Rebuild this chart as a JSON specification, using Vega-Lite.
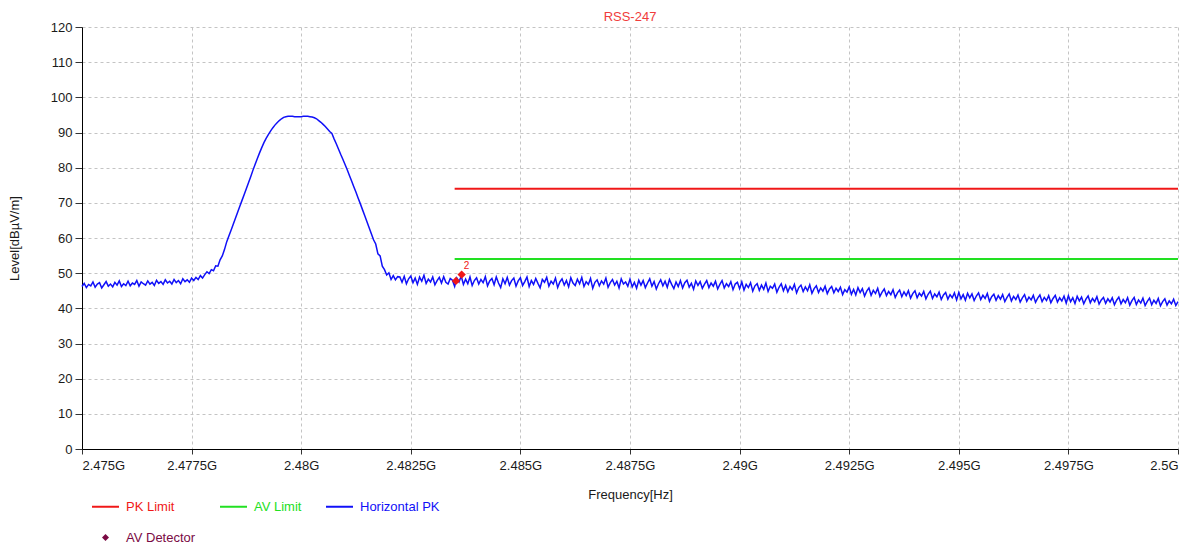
{
"$schema": "https://vega.github.io/schema/vega-lite/v6.json",
"width": 1096,
"height": 422,
"autosize": {"type": "none"},
"padding": {"left": 82, "top": 27, "right": 15, "bottom": 96},
"background": "#ffffff",
"view": {"stroke": null},
"title": {"text": "RSS-247", "color": "#f03c3c", "font": "Liberation Sans", "fontSize": 13, "fontWeight": "normal", "anchor": "middle", "frame": "group", "offset": 4, "baseline": "bottom", "dy": 20},
"config": {
  "font": "Liberation Sans",
  "axis": {"labelFont": "Liberation Sans", "labelFontSize": 13, "labelColor": "#1a1a1a", "titleFont": "Liberation Sans", "titleFontSize": 13, "titleFontWeight": "normal", "titleColor": "#1a1a1a", "domainColor": "#000000", "tickColor": "#333333", "gridColor": "#c4c4c4", "gridDash": [3, 3], "gridWidth": 1}
},
"datasets": {
"limits": [
{"s":"PK Limit","f":2.4835,"v":74},{"s":"PK Limit","f":2.5,"v":74},
{"s":"AV Limit","f":2.4835,"v":54},{"s":"AV Limit","f":2.5,"v":54}
],
"markers": [
{"f":2.48353,"v":47.8,"lab":""},{"f":2.48366,"v":49.6,"lab":"2"}
],
"pk": [
{"f":2.475,"v":46.2},{"f":2.47505,"v":47.1},{"f":2.4751,"v":45.9},{"f":2.47515,"v":46.8},{"f":2.4752,"v":46.4},{"f":2.47525,"v":47.5},{"f":2.4753,"v":46.0},{"f":2.47535,"v":46.9},{"f":2.4754,"v":47.3},{"f":2.47545,"v":45.8},
{"f":2.4755,"v":46.7},{"f":2.47555,"v":47.6},{"f":2.4756,"v":46.3},{"f":2.47565,"v":46.9},{"f":2.4757,"v":46.1},{"f":2.47575,"v":47.4},{"f":2.4758,"v":46.6},{"f":2.47585,"v":47.8},{"f":2.4759,"v":46.2},{"f":2.47595,"v":47.0},
{"f":2.476,"v":46.5},{"f":2.47605,"v":47.7},{"f":2.4761,"v":46.4},{"f":2.47615,"v":47.2},{"f":2.4762,"v":46.8},{"f":2.47625,"v":47.9},{"f":2.4763,"v":46.3},{"f":2.47635,"v":47.5},{"f":2.4764,"v":47.0},{"f":2.47645,"v":46.6},
{"f":2.4765,"v":47.8},{"f":2.47655,"v":46.9},{"f":2.4766,"v":47.4},{"f":2.47665,"v":46.5},{"f":2.4767,"v":48.0},{"f":2.47675,"v":47.1},{"f":2.4768,"v":47.6},{"f":2.47685,"v":46.8},{"f":2.4769,"v":48.1},{"f":2.47695,"v":47.2},
{"f":2.477,"v":47.7},{"f":2.47705,"v":46.9},{"f":2.4771,"v":48.2},{"f":2.47715,"v":47.3},{"f":2.4772,"v":47.9},{"f":2.47725,"v":47.0},{"f":2.4773,"v":48.4},{"f":2.47735,"v":47.6},{"f":2.4774,"v":48.1},{"f":2.47745,"v":47.4},
{"f":2.4775,"v":48.6},{"f":2.47755,"v":47.9},{"f":2.4776,"v":48.8},{"f":2.47765,"v":48.2},{"f":2.4777,"v":49.3},{"f":2.47775,"v":48.6},
{"f":2.4778,"v":49.6},{"f":2.47785,"v":50.4},{"f":2.4779,"v":49.9},{"f":2.47795,"v":51.0},{"f":2.478,"v":50.7},{"f":2.47805,"v":52.1},{"f":2.4781,"v":52.0},{"f":2.47815,"v":53.8},{"f":2.4782,"v":54.9},{"f":2.47825,"v":56.7},
{"f":2.4783,"v":58.9},{"f":2.47835,"v":60.6},{"f":2.4784,"v":62.2},{"f":2.47845,"v":63.9},{"f":2.4785,"v":65.6},{"f":2.47855,"v":67.3},{"f":2.4786,"v":69.0},{"f":2.47865,"v":70.7},{"f":2.4787,"v":72.4},{"f":2.47875,"v":74.1},
{"f":2.4788,"v":75.8},{"f":2.47885,"v":77.5},{"f":2.4789,"v":79.3},{"f":2.47895,"v":81.0},{"f":2.479,"v":82.6},{"f":2.47905,"v":84.2},{"f":2.4791,"v":85.7},{"f":2.47915,"v":87.1},{"f":2.4792,"v":88.3},{"f":2.47925,"v":89.4},
{"f":2.4793,"v":90.4},{"f":2.47935,"v":91.3},{"f":2.4794,"v":92.1},{"f":2.47945,"v":92.8},{"f":2.4795,"v":93.4},{"f":2.47955,"v":93.9},{"f":2.4796,"v":94.3},{"f":2.47965,"v":94.5},{"f":2.4797,"v":94.6},{"f":2.47975,"v":94.6},
{"f":2.4798,"v":94.6},{"f":2.47985,"v":94.5},{"f":2.4799,"v":94.5},{"f":2.47995,"v":94.5},{"f":2.48,"v":94.5},{"f":2.48005,"v":94.6},{"f":2.4801,"v":94.6},{"f":2.48015,"v":94.6},{"f":2.4802,"v":94.5},{"f":2.48025,"v":94.4},
{"f":2.4803,"v":94.2},{"f":2.48035,"v":93.9},{"f":2.4804,"v":93.4},{"f":2.48045,"v":92.9},{"f":2.4805,"v":92.3},{"f":2.48055,"v":91.7},{"f":2.4806,"v":91.0},{"f":2.48065,"v":90.3},{"f":2.4807,"v":89.7},{"f":2.48075,"v":88.2},
{"f":2.4808,"v":86.8},{"f":2.48085,"v":85.3},{"f":2.4809,"v":83.8},{"f":2.48095,"v":82.4},{"f":2.481,"v":80.9},{"f":2.48105,"v":79.4},{"f":2.4811,"v":77.8},{"f":2.48115,"v":76.2},{"f":2.4812,"v":74.6},{"f":2.48125,"v":73.0},
{"f":2.4813,"v":71.3},{"f":2.48135,"v":69.7},{"f":2.4814,"v":68.0},{"f":2.48145,"v":66.3},{"f":2.4815,"v":64.6},{"f":2.48155,"v":62.9},{"f":2.4816,"v":61.2},{"f":2.48165,"v":59.5},{"f":2.4817,"v":58.3},{"f":2.48175,"v":55.5},
{"f":2.4818,"v":54.9},{"f":2.48185,"v":52.0},{"f":2.4819,"v":51.0},{"f":2.48195,"v":49.5},{"f":2.482,"v":50.1},{"f":2.48205,"v":48.2},{"f":2.4821,"v":49.3},{"f":2.48215,"v":48.1},{"f":2.4822,"v":49.0},
{"f":2.48225,"v":48.9},{"f":2.4823,"v":47.4},{"f":2.48235,"v":49.1},{"f":2.4824,"v":47.0},{"f":2.48245,"v":48.4},{"f":2.4825,"v":49.2},{"f":2.48255,"v":47.3},{"f":2.4826,"v":48.6},{"f":2.48265,"v":46.8},{"f":2.4827,"v":48.9},
{"f":2.48275,"v":47.7},{"f":2.4828,"v":49.4},{"f":2.48285,"v":47.1},{"f":2.4829,"v":48.3},{"f":2.48295,"v":47.5},{"f":2.483,"v":48.9},{"f":2.48305,"v":46.7},{"f":2.4831,"v":47.9},{"f":2.48315,"v":48.8},{"f":2.4832,"v":47.2},
{"f":2.48325,"v":49.0},{"f":2.4833,"v":47.4},{"f":2.48335,"v":46.9},{"f":2.4834,"v":48.5},{"f":2.48345,"v":48.0},
{"f":2.4835,"v":46.2},{"f":2.48355,"v":48.6},{"f":2.4836,"v":47.5},{"f":2.48365,"v":49.2},{"f":2.4837,"v":46.8},{"f":2.48375,"v":48.3},{"f":2.4838,"v":47.0},{"f":2.48385,"v":48.9},{"f":2.4839,"v":46.5},{"f":2.48395,"v":47.9},
{"f":2.484,"v":48.7},{"f":2.48405,"v":46.9},{"f":2.4841,"v":48.2},{"f":2.48415,"v":47.3},{"f":2.4842,"v":49.0},{"f":2.48425,"v":46.4},{"f":2.4843,"v":47.8},{"f":2.48435,"v":48.5},{"f":2.4844,"v":46.7},{"f":2.48445,"v":48.9},
{"f":2.4845,"v":47.2},{"f":2.48455,"v":45.9},{"f":2.4846,"v":48.4},{"f":2.48465,"v":47.0},{"f":2.4847,"v":48.8},{"f":2.48475,"v":46.6},{"f":2.4848,"v":47.9},{"f":2.48485,"v":48.6},{"f":2.4849,"v":46.3},{"f":2.48495,"v":47.8},
{"f":2.485,"v":48.7},{"f":2.48505,"v":46.5},{"f":2.4851,"v":47.6},{"f":2.48515,"v":48.9},{"f":2.4852,"v":46.2},{"f":2.48525,"v":47.9},{"f":2.4853,"v":46.8},{"f":2.48535,"v":48.5},{"f":2.4854,"v":47.1},{"f":2.48545,"v":45.8},
{"f":2.4855,"v":48.2},{"f":2.48555,"v":47.4},{"f":2.4856,"v":48.8},{"f":2.48565,"v":46.3},{"f":2.4857,"v":47.7},{"f":2.48575,"v":46.9},{"f":2.4858,"v":48.6},{"f":2.48585,"v":45.9},{"f":2.4859,"v":47.5},{"f":2.48595,"v":48.4},
{"f":2.486,"v":46.6},{"f":2.48605,"v":47.9},{"f":2.4861,"v":46.1},{"f":2.48615,"v":48.7},{"f":2.4862,"v":47.2},{"f":2.48625,"v":46.5},{"f":2.4863,"v":48.3},{"f":2.48635,"v":47.0},{"f":2.4864,"v":48.8},{"f":2.48645,"v":46.2},
{"f":2.4865,"v":47.6},{"f":2.48655,"v":46.8},{"f":2.4866,"v":48.5},{"f":2.48665,"v":45.7},{"f":2.4867,"v":47.4},{"f":2.48675,"v":48.1},{"f":2.4868,"v":46.4},{"f":2.48685,"v":47.8},{"f":2.4869,"v":46.9},{"f":2.48695,"v":48.6},
{"f":2.487,"v":46.0},{"f":2.48705,"v":47.3},{"f":2.4871,"v":48.2},{"f":2.48715,"v":46.6},{"f":2.4872,"v":47.7},{"f":2.48725,"v":45.8},{"f":2.4873,"v":48.4},{"f":2.48735,"v":46.9},{"f":2.4874,"v":47.5},{"f":2.48745,"v":46.3},
{"f":2.4875,"v":48.3},{"f":2.48755,"v":46.1},{"f":2.4876,"v":47.4},{"f":2.48765,"v":45.7},{"f":2.4877,"v":48.0},{"f":2.48775,"v":46.6},{"f":2.4878,"v":47.9},{"f":2.48785,"v":45.9},{"f":2.4879,"v":47.2},{"f":2.48795,"v":48.4},
{"f":2.488,"v":46.3},{"f":2.48805,"v":47.6},{"f":2.4881,"v":45.5},{"f":2.48815,"v":47.0},{"f":2.4882,"v":48.1},{"f":2.48825,"v":46.4},{"f":2.4883,"v":47.7},{"f":2.48835,"v":46.0},{"f":2.4884,"v":48.2},{"f":2.48845,"v":46.8},
{"f":2.4885,"v":45.6},{"f":2.48855,"v":47.5},{"f":2.4886,"v":46.2},{"f":2.48865,"v":47.9},{"f":2.4887,"v":45.8},{"f":2.48875,"v":47.3},{"f":2.4888,"v":48.0},{"f":2.48885,"v":46.0},{"f":2.4889,"v":47.1},{"f":2.48895,"v":45.4},
{"f":2.489,"v":47.8},{"f":2.48905,"v":46.5},{"f":2.4891,"v":47.6},{"f":2.48915,"v":45.7},{"f":2.4892,"v":46.9},{"f":2.48925,"v":47.9},{"f":2.4893,"v":45.9},{"f":2.48935,"v":47.2},{"f":2.4894,"v":46.3},{"f":2.48945,"v":47.7},
{"f":2.4895,"v":45.5},{"f":2.48955,"v":46.8},{"f":2.4896,"v":47.9},{"f":2.48965,"v":45.8},{"f":2.4897,"v":47.0},{"f":2.48975,"v":46.2},{"f":2.4898,"v":47.6},{"f":2.48985,"v":45.3},{"f":2.4899,"v":46.9},{"f":2.48995,"v":47.4},
{"f":2.49,"v":45.6},{"f":2.49005,"v":47.5},{"f":2.4901,"v":45.2},{"f":2.49015,"v":46.8},{"f":2.4902,"v":45.9},{"f":2.49025,"v":47.3},{"f":2.4903,"v":44.9},{"f":2.49035,"v":46.4},{"f":2.4904,"v":47.0},{"f":2.49045,"v":45.1},
{"f":2.4905,"v":46.6},{"f":2.49055,"v":45.4},{"f":2.4906,"v":47.2},{"f":2.49065,"v":44.8},{"f":2.4907,"v":46.3},{"f":2.49075,"v":45.7},{"f":2.4908,"v":46.9},{"f":2.49085,"v":44.6},{"f":2.4909,"v":46.0},{"f":2.49095,"v":47.0},
{"f":2.491,"v":45.0},{"f":2.49105,"v":46.5},{"f":2.4911,"v":44.7},{"f":2.49115,"v":46.2},{"f":2.4912,"v":45.3},{"f":2.49125,"v":46.8},{"f":2.4913,"v":44.4},{"f":2.49135,"v":45.9},{"f":2.4914,"v":46.6},{"f":2.49145,"v":44.8},
{"f":2.4915,"v":46.1},{"f":2.49155,"v":45.0},{"f":2.4916,"v":46.7},{"f":2.49165,"v":44.3},{"f":2.4917,"v":45.6},{"f":2.49175,"v":46.4},{"f":2.4918,"v":44.5},{"f":2.49185,"v":45.8},{"f":2.4919,"v":44.9},{"f":2.49195,"v":46.3},
{"f":2.492,"v":44.2},{"f":2.49205,"v":45.5},{"f":2.4921,"v":46.2},{"f":2.49215,"v":44.4},{"f":2.4922,"v":45.7},{"f":2.49225,"v":44.8},{"f":2.4923,"v":46.0},{"f":2.49235,"v":43.9},{"f":2.4924,"v":45.3},{"f":2.49245,"v":44.6},
{"f":2.4925,"v":46.1},{"f":2.49255,"v":44.0},{"f":2.4926,"v":45.4},{"f":2.49265,"v":43.8},{"f":2.4927,"v":45.9},{"f":2.49275,"v":44.5},{"f":2.4928,"v":45.6},{"f":2.49285,"v":43.5},{"f":2.4929,"v":44.9},{"f":2.49295,"v":45.8},
{"f":2.493,"v":43.7},{"f":2.49305,"v":45.1},{"f":2.4931,"v":44.2},{"f":2.49315,"v":45.7},{"f":2.4932,"v":43.4},{"f":2.49325,"v":44.6},{"f":2.4933,"v":45.5},{"f":2.49335,"v":43.6},{"f":2.4934,"v":44.8},{"f":2.49345,"v":43.9},
{"f":2.4935,"v":45.3},{"f":2.49355,"v":43.1},{"f":2.4936,"v":44.4},{"f":2.49365,"v":45.2},{"f":2.4937,"v":43.3},{"f":2.49375,"v":44.7},{"f":2.4938,"v":43.6},{"f":2.49385,"v":45.0},{"f":2.4939,"v":42.9},{"f":2.49395,"v":44.2},
{"f":2.494,"v":45.0},{"f":2.49405,"v":43.0},{"f":2.4941,"v":44.3},{"f":2.49415,"v":43.5},{"f":2.4942,"v":44.8},{"f":2.49425,"v":42.7},{"f":2.4943,"v":44.0},{"f":2.49435,"v":44.9},{"f":2.4944,"v":42.8},{"f":2.49445,"v":44.1},
{"f":2.4945,"v":43.3},{"f":2.49455,"v":44.6},{"f":2.4946,"v":42.5},{"f":2.49465,"v":43.8},{"f":2.4947,"v":44.5},{"f":2.49475,"v":42.6},{"f":2.4948,"v":43.9},{"f":2.49485,"v":43.0},{"f":2.4949,"v":44.4},{"f":2.49495,"v":42.4},
{"f":2.495,"v":44.5},{"f":2.49505,"v":42.7},{"f":2.4951,"v":43.9},{"f":2.49515,"v":42.3},{"f":2.4952,"v":44.3},{"f":2.49525,"v":43.0},{"f":2.4953,"v":44.1},{"f":2.49535,"v":42.2},{"f":2.4954,"v":43.5},{"f":2.49545,"v":44.4},
{"f":2.4955,"v":42.5},{"f":2.49555,"v":43.7},{"f":2.4956,"v":42.8},{"f":2.49565,"v":44.2},{"f":2.4957,"v":42.0},{"f":2.49575,"v":43.3},{"f":2.4958,"v":44.0},{"f":2.49585,"v":42.3},{"f":2.4959,"v":43.6},{"f":2.49595,"v":42.6},
{"f":2.496,"v":43.9},{"f":2.49605,"v":41.9},{"f":2.4961,"v":43.1},{"f":2.49615,"v":44.1},{"f":2.4962,"v":42.1},{"f":2.49625,"v":43.4},{"f":2.4963,"v":42.5},{"f":2.49635,"v":43.8},{"f":2.4964,"v":41.8},{"f":2.49645,"v":43.0},
{"f":2.4965,"v":43.9},{"f":2.49655,"v":42.0},{"f":2.4966,"v":43.2},{"f":2.49665,"v":42.4},{"f":2.4967,"v":43.7},{"f":2.49675,"v":41.7},{"f":2.4968,"v":42.9},{"f":2.49685,"v":43.8},{"f":2.4969,"v":41.9},{"f":2.49695,"v":43.1},
{"f":2.497,"v":42.2},{"f":2.49705,"v":43.6},{"f":2.4971,"v":41.6},{"f":2.49715,"v":42.8},{"f":2.4972,"v":43.7},{"f":2.49725,"v":41.8},{"f":2.4973,"v":43.0},{"f":2.49735,"v":42.1},{"f":2.4974,"v":43.5},{"f":2.49745,"v":41.5},
{"f":2.4975,"v":43.6},{"f":2.49755,"v":41.9},{"f":2.4976,"v":43.0},{"f":2.49765,"v":41.4},{"f":2.4977,"v":43.4},{"f":2.49775,"v":42.1},{"f":2.4978,"v":43.2},{"f":2.49785,"v":41.3},{"f":2.4979,"v":42.6},{"f":2.49795,"v":43.5},
{"f":2.498,"v":41.6},{"f":2.49805,"v":42.8},{"f":2.4981,"v":41.9},{"f":2.49815,"v":43.3},{"f":2.4982,"v":41.2},{"f":2.49825,"v":42.4},{"f":2.4983,"v":43.1},{"f":2.49835,"v":41.4},{"f":2.4984,"v":42.7},{"f":2.49845,"v":41.8},
{"f":2.4985,"v":43.0},{"f":2.49855,"v":41.0},{"f":2.4986,"v":42.3},{"f":2.49865,"v":43.2},{"f":2.4987,"v":41.3},{"f":2.49875,"v":42.5},{"f":2.4988,"v":41.6},{"f":2.49885,"v":43.0},{"f":2.4989,"v":40.9},{"f":2.49895,"v":42.2},
{"f":2.499,"v":43.1},{"f":2.49905,"v":41.1},{"f":2.4991,"v":42.4},{"f":2.49915,"v":41.5},{"f":2.4992,"v":42.9},{"f":2.49925,"v":40.8},{"f":2.4993,"v":42.0},{"f":2.49935,"v":42.9},{"f":2.4994,"v":41.0},{"f":2.49945,"v":42.3},
{"f":2.4995,"v":41.4},{"f":2.49955,"v":42.8},{"f":2.4996,"v":40.7},{"f":2.49965,"v":41.9},{"f":2.4997,"v":42.7},{"f":2.49975,"v":40.9},{"f":2.4998,"v":42.1},{"f":2.49985,"v":41.3},{"f":2.4999,"v":42.6},{"f":2.49995,"v":40.8},
{"f":2.5,"v":41.9}
]
},
"encoding": {
  "x": {"field": "f", "type": "quantitative",
        "scale": {"domain": [2.475, 2.5], "nice": false, "zero": false},
        "axis": {"values": [2.475, 2.4775, 2.48, 2.4825, 2.485, 2.4875, 2.49, 2.4925, 2.495, 2.4975, 2.5],
                 "labelExpr": "format(datum.value, '.4~f') + 'G'",
                 "title": "Frequency[Hz]", "titleY": 39, "titleBaseline": "top",
                 "tickSize": 5, "labelPadding": 5, "grid": true}},
  "y": {"field": "v", "type": "quantitative",
        "scale": {"domain": [0, 120], "nice": false},
        "axis": {"values": [0, 10, 20, 30, 40, 50, 60, 70, 80, 90, 100, 110, 120],
                 "title": "Level[dBµV/m]", "titleX": -68, "titleY": 211, "titleAngle": 270, "titleBaseline": "middle", "titleAlign": "center",
                 "tickSize": 7, "labelPadding": 3, "grid": true}}
},
"layer": [
  {
    "data": {"name": "limits"},
    "mark": {"type": "line", "strokeWidth": 2},
    "encoding": {
      "color": {"field": "s", "type": "nominal",
        "scale": {"domain": ["PK Limit", "AV Limit", "Horizontal PK", "AV Detector"], "range": ["#f01818", "#22e022", "#1010f8", "#7a0a44"]},
        "legend": {"title": null, "orient": "none", "legendX": 17, "legendY": 473, "direction": "horizontal", "columns": 3,
          "gridAlign": "each", "columnPadding": 20, "rowPadding": 17, "padding": 0,
          "symbolType": "stroke", "symbolSize": 729, "symbolStrokeWidth": 2, "labelOffset": 14,
          "labelFont": "Liberation Sans", "labelFontSize": 13,
          "encode": {
            "labels": {"update": {"fill": {"signal": "scale('color', datum.value)"}}},
            "symbols": {"update": {
              "shape": {"signal": "datum.value === 'AV Detector' ? 'diamond' : 'stroke'"},
              "size": {"signal": "datum.value === 'AV Detector' ? 49 : 729"},
              "fill": {"signal": "datum.value === 'AV Detector' ? '#7a0a44' : 'transparent'"},
              "stroke": {"signal": "datum.value === 'AV Detector' ? '#7a0a44' : scale('color', datum.value)"},
              "strokeWidth": {"signal": "datum.value === 'AV Detector' ? 0 : 2"}
            }}
          }
        }},
      "detail": {"field": "s"}
    }
  },
  {
    "data": {"name": "pk"},
    "mark": {"type": "line", "strokeWidth": 1.5},
    "encoding": {
      "color": {"datum": "Horizontal PK", "type": "nominal"}
    }
  },
  {
    "data": {"name": "markers"},
    "mark": {"type": "point", "shape": "diamond", "filled": true, "color": "#f01818", "size": 70, "opacity": 1}
  },
  {
    "data": {"name": "markers"},
    "mark": {"type": "text", "color": "#f01818", "fontSize": 10, "font": "Liberation Sans", "dx": 5, "dy": -9},
    "encoding": {"text": {"field": "lab"}}
  }
]
}
